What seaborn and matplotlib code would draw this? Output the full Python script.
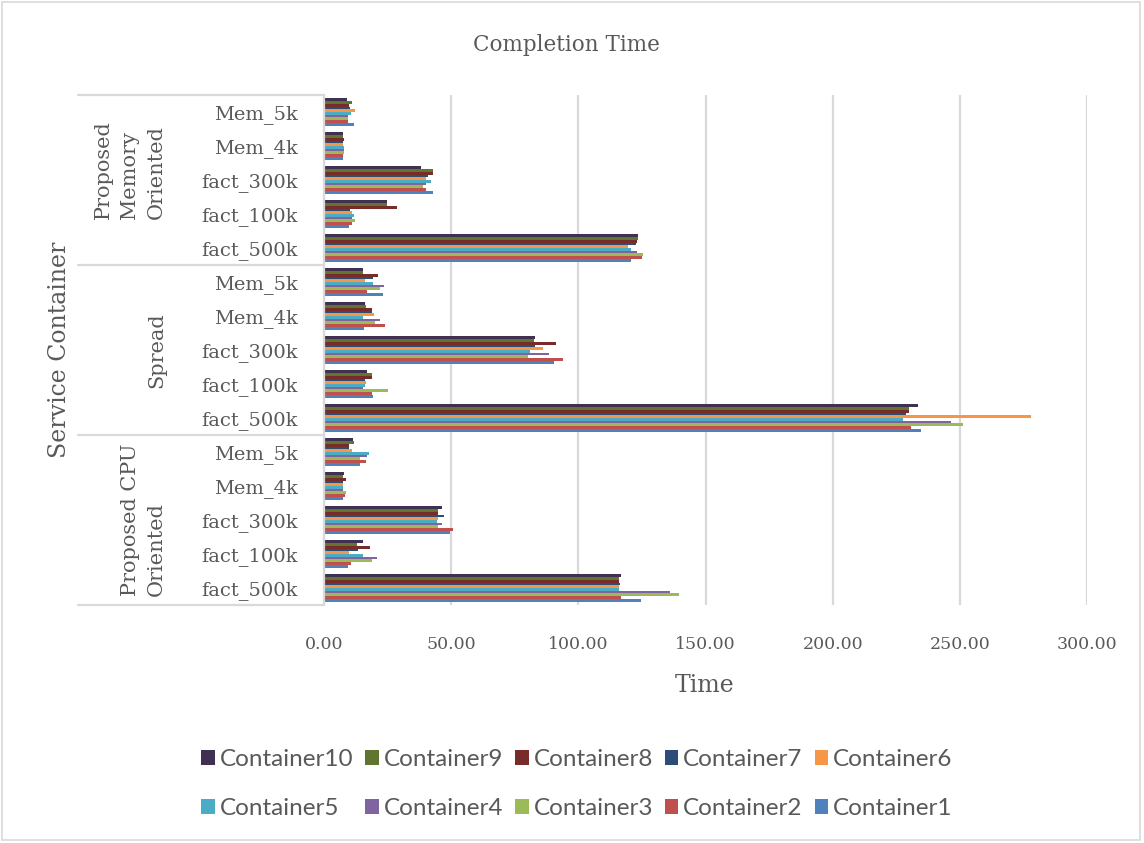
import numpy as np
import pandas as pd
import matplotlib
matplotlib.use("Agg")
import matplotlib.pyplot as plt
import seaborn as sns
from matplotlib.lines import Line2D
from matplotlib.patches import Rectangle

# ---------------- data ----------------
groups = ["Proposed\nMemory\nOriented", "Spread", "Proposed CPU\nOriented"]
tasks = ["Mem_5k", "Mem_4k", "fact_300k", "fact_100k", "fact_500k"]
containers = ["Container10", "Container9", "Container8", "Container7", "Container6",
              "Container5", "Container4", "Container3", "Container2", "Container1"]

# values per container, categories ordered top->bottom:
# Memory(Mem_5k..fact_500k), Spread(...), CPU(...)
c10 = [8.9, 7.6, 38.2, 24.6, 123.5, 15.5, 16.0, 82.9, 16.8, 233.5, 11.3, 8.0, 46.3, 15.2, 116.6]
c9 = [10.9, 7.6, 42.9, 24.6, 123.5, 15.5, 16.5, 82.5, 18.7, 230.0, 11.8, 7.6, 45.0, 13.0, 116.0]
c8 = [10.0, 8.0, 42.7, 28.6, 122.9, 21.3, 18.7, 91.4, 18.7, 230.0, 10.0, 8.7, 45.0, 18.1, 116.0]
c7 = [10.2, 7.6, 40.7, 10.2, 122.5, 19.4, 18.7, 83.0, 16.0, 229.0, 10.0, 7.3, 47.1, 13.3, 116.2]
c6 = [12.0, 7.6, 40.3, 11.0, 119.6, 16.0, 19.6, 86.2, 16.5, 278.0, 10.9, 7.3, 45.0, 9.7, 116.0]
c5 = [10.5, 8.0, 42.2, 11.8, 120.9, 19.1, 15.5, 80.9, 16.3, 227.6, 17.8, 7.3, 44.4, 15.5, 115.9]
c4 = [9.3, 8.0, 40.3, 10.9, 122.9, 23.6, 22.0, 88.5, 15.5, 246.6, 16.8, 7.3, 46.3, 20.7, 136.0]
c3 = [9.3, 8.0, 39.0, 12.0, 125.5, 22.0, 20.0, 80.3, 25.3, 251.2, 14.2, 8.5, 44.7, 18.7, 139.6]
c2 = [9.5, 7.6, 40.0, 10.9, 124.9, 17.0, 24.1, 93.8, 18.7, 230.9, 16.4, 8.3, 50.8, 10.5, 116.8]
c1 = [11.7, 7.3, 42.9, 10.0, 120.9, 23.3, 15.7, 90.4, 19.4, 234.8, 14.0, 7.6, 49.6, 9.6, 124.6]
series = [c10, c9, c8, c7, c6, c5, c4, c3, c2, c1]

colors = ["#403152", "#5F7530", "#772C2A", "#2C4D75", "#F79646",
          "#4BACC6", "#8064A2", "#9BBB59", "#C0504D", "#4F81BD"]

xticks = [0, 50, 100, 150, 200, 250, 300]

# ---------------- long-form frame ----------------
keys = [f"{g}|{t}" for g in groups for t in tasks]
rows = []
for cname, vals in zip(containers, series):
    for k, v in zip(keys, vals):
        rows.append({"Key": k, "Container": cname, "Time": v})
df = pd.DataFrame(rows)

# ---------------- style ----------------
sns.set_style("white")
serif = ["DejaVu Serif"]
sans = ["Lato", "DejaVu Sans"]
plt.rcParams["font.family"] = serif
txt = "#595959"
grid_c = "#D9D9D9"

W, H = 1144, 843
fig = plt.figure(figsize=(W / 100, H / 100), dpi=100)

def fx(px):
    return px / W

def fy(py):
    return (H - py) / H

ax_l, ax_r, ax_t, ax_b = 324, 1087, 95, 605
ax = fig.add_axes([fx(ax_l), fy(ax_b), fx(ax_r - ax_l), (ax_b - ax_t) / H])

sns.barplot(data=df, x="Time", y="Key", hue="Container", order=keys,
            hue_order=containers, palette=colors, orient="h", width=0.8,
            errorbar=None, saturation=1, linewidth=0, dodge=True, ax=ax)

ax.set_xlim(0, 300)
ax.set_ylim(len(keys) - 0.5, -0.5)
ax.set_xticks(xticks)
ax.set_xticklabels([f"{v:.2f}" for v in xticks])
ax.set_yticks(range(len(keys)))
ax.set_yticklabels([k.split("|")[1] for k in keys])
ax.tick_params(axis="y", length=0, pad=19, labelsize=14, labelcolor=txt)
ax.tick_params(axis="x", length=0, pad=22, labelsize=12.5, labelcolor=txt)
ax.xaxis.grid(True, color=grid_c, lw=1.6)
ax.set_axisbelow(True)
for s in ["top", "right", "bottom"]:
    ax.spines[s].set_visible(False)
ax.spines["left"].set_color(grid_c)
ax.spines["left"].set_linewidth(1.6)
ax.set_xlabel("")
ax.set_ylabel("")

# legend
handles, labels = ax.get_legend_handles_labels()
ax.legend_.remove()
order = [0, 5, 1, 6, 2, 7, 3, 8, 4, 9]
fig.legend([handles[i] for i in order], [labels[i] for i in order],
           loc="center", bbox_to_anchor=(fx(577), fy(784)), ncol=5,
           frameon=False, prop={"family": sans, "size": 17.5},
           labelcolor=txt, handlelength=0.55, handleheight=0.55,
           handletextpad=0.2, columnspacing=0.5, labelspacing=1.15)

# multi-level category separators
x0 = (78 - ax_l) / (ax_r - ax_l)
for yv in [0, 1 / 3, 2 / 3, 1]:
    ax.add_line(Line2D([x0, 0], [yv, yv], transform=ax.transAxes,
                       color=grid_c, lw=1.6, clip_on=False))

# group labels
group_y = [170, 350, 520]
for g, gy in zip(groups, group_y):
    fig.text(fx(166), fy(gy), g, rotation=90, ha="right", va="center",
             multialignment="left", fontsize=15, color=txt, linespacing=1.5)

# titles
fig.text(fx(566), fy(45), "Completion Time", ha="center", va="center",
         fontsize=15.5, color=txt)
fig.text(fx(705), fy(685), "Time", ha="center", va="center",
         fontsize=17, color=txt)
fig.text(fx(60), fy(350), "Service Container", rotation=90, ha="center",
         va="center", fontsize=17, color=txt)

# chart frame
fig.patches.append(Rectangle((fx(2), fy(840)), fx(1138), (838) / H,
                             transform=fig.transFigure, fill=False,
                             edgecolor=grid_c, lw=1.2))

fig.savefig("out.png", dpi=100)
